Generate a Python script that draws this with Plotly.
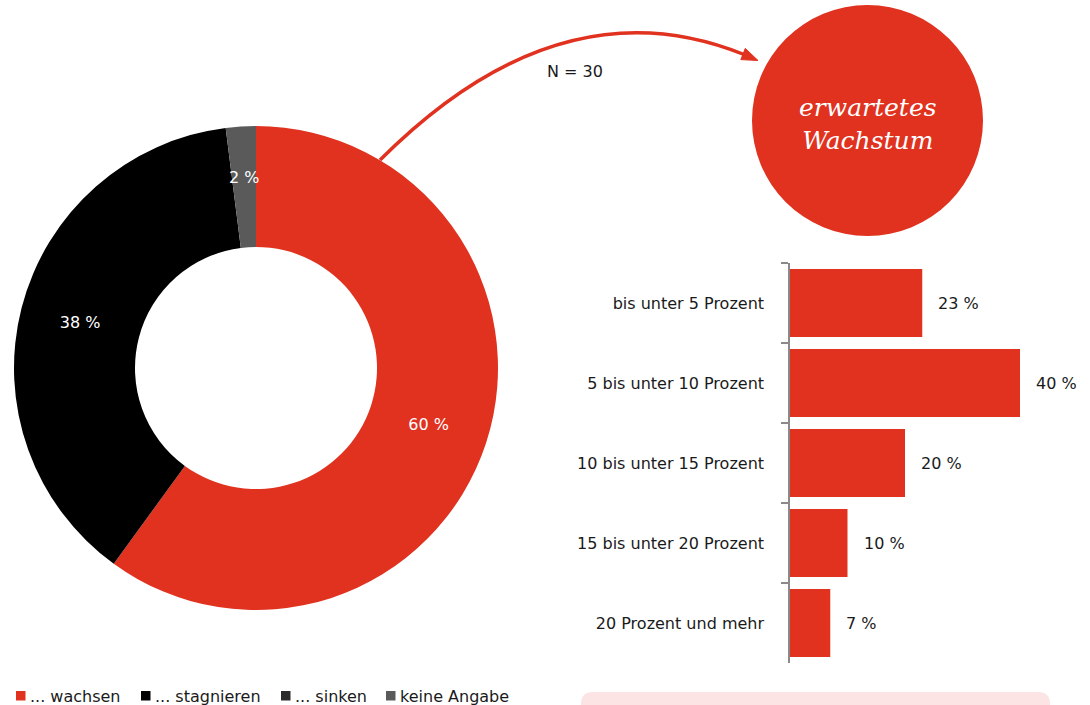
import math
import plotly.graph_objects as go

# ---- data ----
pie_labels = ["... wachsen", "... stagnieren", "... sinken", "keine Angabe"]
pie_values = [60, 38, 0, 2]
pie_colors = ["#E0321F", "#000000", "#2B2B2B", "#5A5A5A"]

bar_categories = ["bis unter 5 Prozent", "5 bis unter 10 Prozent", "10 bis unter 15 Prozent",
                  "15 bis unter 20 Prozent", "20 Prozent und mehr"]
bar_values = [23, 40, 20, 10, 7]

sample_text = "N = 30"
circle_title = "erwartetes<br>Wachstum"

RED = "#E0321F"
W, H = 1090, 705
FONT = "DejaVu Sans"
TXT = "#1A1A1A"

# donut geometry (pixels)
CX, CY, R_OUT = 256, 368, 242

def px(x):
    return x / W

def py(y):
    return 1 - y / H

total = sum(pie_values)
small = [v > 0 and v / total < 0.05 for v in pie_values]

fig = go.Figure()

# donut
fig.add_trace(go.Pie(
    labels=pie_labels, values=pie_values, sort=False, direction="clockwise", rotation=0,
    hole=0.5, marker=dict(colors=pie_colors, line=dict(width=0)),
    text=[f"{v} %" if (v and not s) else "" for v, s in zip(pie_values, small)], textinfo="text",
    textposition="inside", insidetextorientation="horizontal",
    textfont=dict(family=FONT, size=16, color="white"),
    domain=dict(x=[px(CX - R_OUT), px(CX + R_OUT)], y=[py(CY + R_OUT), py(CY - R_OUT)]),
    showlegend=False, hoverinfo="label+percent",
))

# bars
fig.add_trace(go.Bar(
    x=bar_values, y=bar_categories, orientation="h",
    marker=dict(color=RED, line=dict(width=0)),
    xaxis="x", yaxis="y", showlegend=False,
))

xmax = 45
fig.update_layout(
    width=W, height=H, margin=dict(l=0, r=0, t=0, b=0),
    paper_bgcolor="white", plot_bgcolor="rgba(0,0,0,0)",
    bargap=0.15,
    xaxis=dict(domain=[px(790), px(790 + xmax * 5.75)], range=[0, xmax], visible=False,
               showgrid=False, zeroline=False),
    yaxis=dict(domain=[py(663), py(263)], autorange="reversed", showline=True,
               linecolor="#8A8A8A", linewidth=1.5, ticks="outside", tickson="boundaries",
               ticklen=7, tickcolor="#8A8A8A", tickwidth=1.5, ticklabelstandoff=21,
               tickfont=dict(family=FONT, size=16, color=TXT), showgrid=False),
    xaxis3=dict(domain=[0, 1], range=[0, W], visible=False, anchor="y3", fixedrange=True),
    yaxis3=dict(domain=[0, 1], range=[H, 0], visible=False, anchor="x3", fixedrange=True),
    showlegend=False,
)

shapes = []
# red circle
shapes.append(dict(type="circle", xref="x3", yref="y3", x0=752, x1=983, y0=5, y1=236,
                   fillcolor=RED, line=dict(width=0), layer="below"))
# arc arrow
shapes.append(dict(type="path", xref="x3", yref="y3", path="M 380,160 Q 560,-20 744,54.5",
                   line=dict(color=RED, width=3.5), layer="above"))
shapes.append(dict(type="path", xref="x3", yref="y3",
                   path="M 758,60.5 L 740.8,59.6 L 745.3,48.4 Z",
                   fillcolor=RED, line=dict(color=RED, width=1), layer="above"))
# pink box at bottom
shapes.append(dict(type="path", xref="x3", yref="y3",
                   path="M 581,730 L 581,704 Q 581,692 593,692 L 1038,692 Q 1050,692 1050,704 L 1050,730 Z",
                   fillcolor="#FBE4E3", line=dict(width=0), layer="below"))

annotations = []
# labels for thin donut slices (placed horizontally at the slice's mid angle)
cum = 0
for v, s in zip(pie_values, small):
    if s:
        ang = math.radians(360 * (cum + v / 2) / total)
        r = 0.79 * R_OUT
        annotations.append(dict(xref="x3", yref="y3", x=CX + r * math.sin(ang), y=CY - r * math.cos(ang),
                                text=f"{v} %", showarrow=False,
                                font=dict(family=FONT, size=16, color="white")))
    cum += v

# manual legend
legend_x = [16, 141, 281, 386]
for lx, lab, col in zip(legend_x, pie_labels, pie_colors):
    shapes.append(dict(type="rect", xref="x3", yref="y3", x0=lx, x1=lx + 9.5, y0=691, y1=700.5,
                       fillcolor=col, line=dict(width=0)))
    annotations.append(dict(xref="x3", yref="y3", x=lx + 12, y=696.5, text=lab, showarrow=False,
                            xanchor="left", yanchor="middle",
                            font=dict(family=FONT, size=16, color=TXT)))

# bar value labels
for cat, v in zip(bar_categories, bar_values):
    annotations.append(dict(xref="x", yref="y", x=v, y=cat, text=f"{v} %", showarrow=False,
                            xanchor="left", yanchor="middle", xshift=14,
                            font=dict(family=FONT, size=16, color=TXT)))

annotations.append(dict(xref="x3", yref="y3", x=574.5, y=71, text=sample_text, showarrow=False,
                        font=dict(family=FONT, size=16, color=TXT)))
annotations.append(dict(xref="x3", yref="y3", x=868, y=124, text=circle_title, showarrow=False,
                        font=dict(family="DejaVu Serif", size=25, color="white", style="italic"),
                        align="center"))

fig.update_layout(shapes=shapes, annotations=annotations)

fig.write_html("out.html", config={"displayModeBar": False},
               post_script="document.body.style.margin='0';document.body.style.overflow='hidden';")
